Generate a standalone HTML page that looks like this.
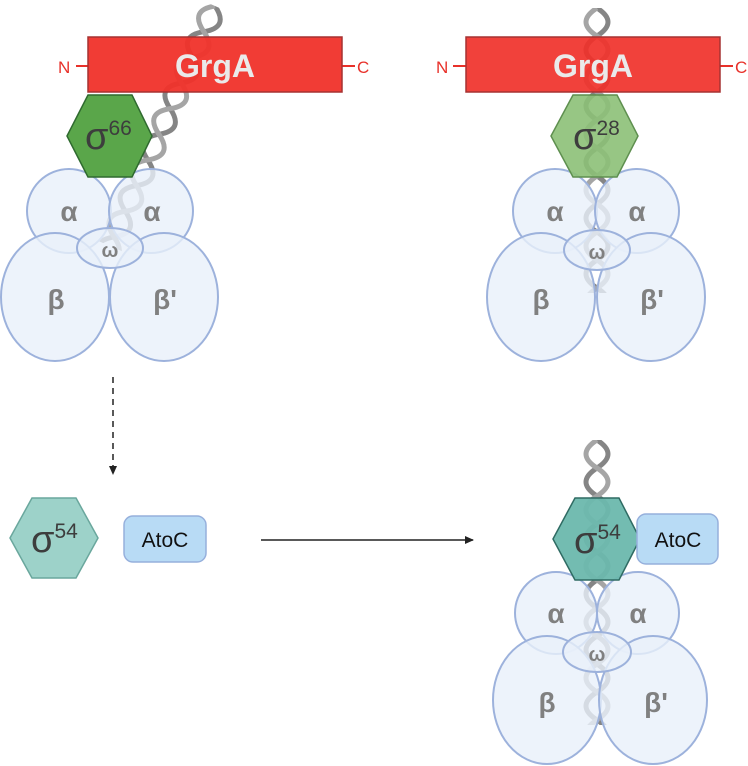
<!DOCTYPE html>
<html><head><style>
html,body{margin:0;padding:0;background:#fff;}
svg{display:block;font-family:"Liberation Sans",sans-serif;}
</style></head><body>
<svg width="748" height="766" viewBox="0 0 748 766" xmlns="http://www.w3.org/2000/svg">
<defs>
<marker id="ah" markerWidth="10" markerHeight="10" refX="8" refY="5" orient="auto" markerUnits="userSpaceOnUse">
<path d="M0,1 L9,5 L0,9 z" fill="#222"/></marker>
<g id="helix">
<path d="M0,0 q22,14 0,28 t0,28 t0,28 t0,28 t0,28 t0,28 t0,28 t0,28 t0,28 t0,28 t0,28 t0,28" fill="none" stroke="#858585" stroke-width="5"/>
<path d="M0,0 q-22,14 0,28 t0,28 t0,28 t0,28 t0,28 t0,28 t0,28 t0,28 t0,28 t0,28 t0,28 t0,28" fill="none" stroke="#a5a5a5" stroke-width="5"/>
</g>
</defs>

<!-- DNA strands -->
<g transform="translate(215,6) rotate(23.6)"><clipPath id="c1"><rect x="-30" y="0" width="60" height="262"/></clipPath><g clip-path="url(#c1)"><use href="#helix"/></g></g>
<g transform="translate(597,8)"><clipPath id="c2"><rect x="-30" y="0" width="60" height="285"/></clipPath><g clip-path="url(#c2)"><use href="#helix"/></g></g>
<g transform="translate(597,440)"><clipPath id="c3"><rect x="-30" y="0" width="60" height="285"/></clipPath><g clip-path="url(#c3)"><use href="#helix"/></g></g>

<!-- Top-left RNAP -->
<g fill="#e9f0fa" fill-opacity="0.8" stroke="#9db2dc" stroke-width="2">
<circle cx="69" cy="211" r="42"/><circle cx="151" cy="211" r="42"/>
<ellipse cx="55" cy="297" rx="54" ry="64"/><ellipse cx="164" cy="297" rx="54" ry="64"/>
<ellipse cx="110" cy="248" rx="33" ry="20"/>
</g>
<!-- Top-right RNAP -->
<g fill="#e9f0fa" fill-opacity="0.8" stroke="#9db2dc" stroke-width="2">
<circle cx="555" cy="211" r="42"/><circle cx="637" cy="211" r="42"/>
<ellipse cx="541" cy="297" rx="54" ry="64"/><ellipse cx="651" cy="297" rx="54" ry="64"/>
<ellipse cx="597" cy="250" rx="33" ry="20"/>
</g>
<!-- Bottom-right RNAP -->
<g fill="#e9f0fa" fill-opacity="0.8" stroke="#9db2dc" stroke-width="2">
<circle cx="556" cy="613" r="41"/><circle cx="638" cy="613" r="41"/>
<ellipse cx="547" cy="700" rx="54" ry="64"/><ellipse cx="653" cy="700" rx="54" ry="64"/>
<ellipse cx="597" cy="652" rx="34" ry="20"/>
</g>

<g fill="#808080" font-weight="bold" text-anchor="middle" font-size="28">
<text x="69" y="221">α</text><text x="152" y="221">α</text>
<text x="56" y="309">β</text><text x="165" y="309">β'</text>
<text x="110" y="257" font-size="20">ω</text>
<text x="555" y="221">α</text><text x="637" y="221">α</text>
<text x="541" y="309">β</text><text x="652" y="309">β'</text>
<text x="597" y="259" font-size="20">ω</text>
<text x="556" y="623">α</text><text x="638" y="623">α</text>
<text x="547" y="712">β</text><text x="656" y="712">β'</text>
<text x="597" y="661" font-size="20">ω</text>
</g>

<!-- GrgA -->
<g stroke="#e8312a" stroke-width="2"><line x1="76" y1="66" x2="88" y2="66"/><line x1="342" y1="66" x2="355" y2="66"/>
<line x1="453" y1="66" x2="466" y2="66"/><line x1="720" y1="66" x2="733" y2="66"/></g>
<g fill="#e8312a" font-size="17"><text x="58" y="73">N</text><text x="357" y="73">C</text>
<text x="436" y="73">N</text><text x="735" y="73">C</text></g>
<rect x="88" y="37" width="254" height="55" fill="#f0312a" fill-opacity="0.95" stroke="#a63232" stroke-width="1.5"/>
<rect x="466" y="37" width="254" height="55" fill="#f0312a" fill-opacity="0.92" stroke="#a63232" stroke-width="1.5"/>
<g fill="#eaeaea" font-weight="bold" font-size="32" text-anchor="middle">
<text x="215" y="77">GrgA</text><text x="593" y="77">GrgA</text></g>

<!-- sigma hexagons -->
<polygon points="67,136 88,95 132,95 152,136 132,177 88,177" fill="#5aa64a" stroke="#2f6a2f" stroke-width="1.5"/>
<polygon points="551,136 573,95 617,95 638,136 617,177 573,177" fill="#8cc077" fill-opacity="0.9" stroke="#5e8f4f" stroke-width="1.5"/>
<polygon points="10,538 32,498 76,498 98,538 76,578 32,578" fill="#9dd2c9" stroke="#6aa79d" stroke-width="1.5"/>
<polygon points="553,539 575,498 619,498 640,539 619,580 575,580" fill="#6cb8ad" fill-opacity="0.95" stroke="#2f6b63" stroke-width="1.5"/>
<g fill="#3d3d3d" font-size="38">
<text x="85" y="149">σ<tspan font-size="21" dy="-14">66</tspan></text>
<text x="573" y="149">σ<tspan font-size="21" dy="-14">28</tspan></text>
<text x="31" y="552">σ<tspan font-size="21" dy="-14">54</tspan></text>
<text x="574" y="553">σ<tspan font-size="21" dy="-14">54</tspan></text>
</g>

<!-- AtoC -->
<rect x="124" y="516" width="82" height="46" rx="9" fill="#b8dbf5" stroke="#96b0dc" stroke-width="1.5"/>
<rect x="637" y="514" width="81" height="50" rx="9" fill="#b8dbf5" stroke="#96b0dc" stroke-width="1.5"/>
<g fill="#111" font-size="21" text-anchor="middle"><text x="165" y="547">AtoC</text><text x="678" y="547">AtoC</text></g>

<!-- arrows -->
<line x1="113" y1="377" x2="113" y2="474" stroke="#222" stroke-width="1.5" stroke-dasharray="6,5" marker-end="url(#ah)"/>
<line x1="261" y1="540" x2="473" y2="540" stroke="#222" stroke-width="1.5" marker-end="url(#ah)"/>
</svg>
</body></html>
